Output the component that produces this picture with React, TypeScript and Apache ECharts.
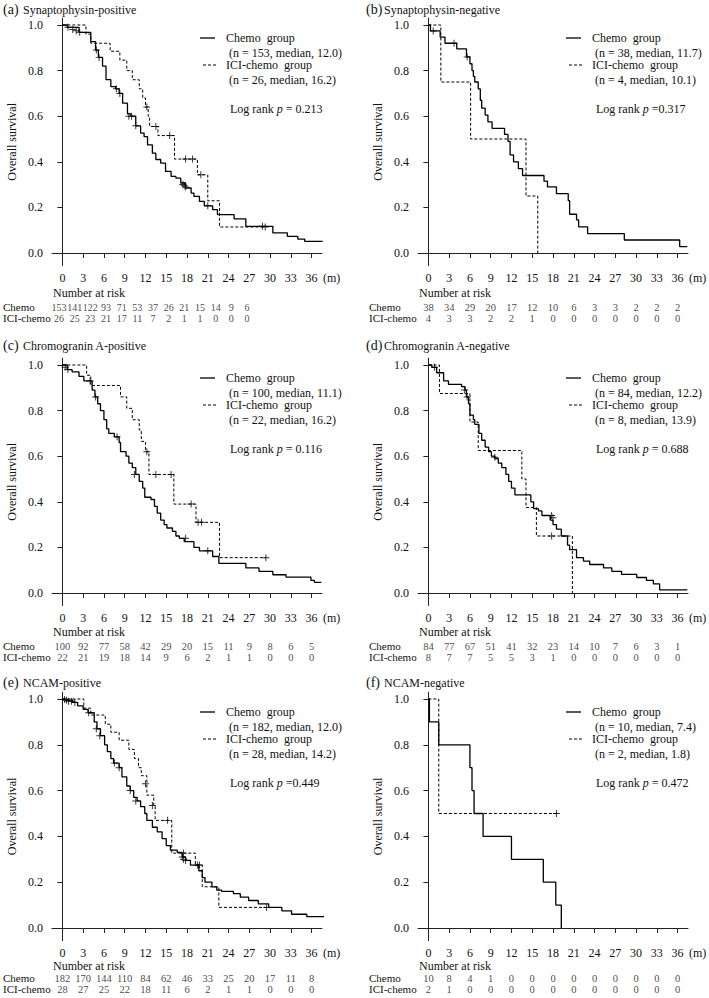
import React, { useEffect, useRef } from "react";
import * as echarts from "echarts";

const FONT = "'Liberation Serif', 'Times New Roman', serif";
const INK = "#111";

// ---- axes ----
const xTicks = [0, 3, 6, 9, 12, 15, 18, 21, 24, 27, 30, 33, 36];
const yTicks = [0, 0.2, 0.4, 0.6, 0.8, 1.0];
const riskRows = ["Chemo", "ICI-chemo"];
const titles = [
  "Synaptophysin-positive",
  "Synaptophysin-negative",
  "Chromogranin A-positive",
  "Chromogranin A-negative",
  "NCAM-positive",
  "NCAM-negative",
];
const tags = ["(a)", "(b)", "(c)", "(d)", "(e)", "(f)"];
const chemoN = ["153", "38", "100", "84", "182", "10"];
const chemoMedian = ["12.0", "11.7", "11.1", "12.2", "12.0", "7.4"];
const iciN = ["26", "4", "22", "8", "28", "2"];
const iciMedian = ["16.2", "10.1", "16.2", "13.9", "14.2", "1.8"];
const pText = [" = 0.213", " =0.317", " = 0.116", " = 0.688", " =0.449", " = 0.472"];

// ---- (a) Synaptophysin-positive ----
const aChemo = [[0,1],[0.7,0.99],[2.4,0.968],[4.1,0.927],[4.8,0.89],[5.2,0.858],[5.8,0.82],[6.3,0.76],[7.0,0.73],[7.7,0.72],[8.2,0.70],[8.7,0.657],[9.4,0.61],[9.9,0.60],[10.6,0.558],[11.3,0.526],[11.8,0.51],[12.3,0.474],[13.0,0.438],[13.5,0.41],[14.2,0.394],[14.9,0.358],[15.7,0.336],[16.4,0.328],[17.1,0.307],[17.8,0.285],[18.6,0.263],[19.0,0.248],[19.8,0.226],[20.5,0.207],[21.7,0.19],[22.4,0.168],[24.8,0.15],[26.5,0.117],[30.4,0.088],[32.5,0.073],[34.0,0.061],[35.0,0.051],[37.6,0.051]];
const aIci = [[0,1],[3.4,0.96],[4.1,0.92],[6.9,0.885],[8.3,0.846],[9.3,0.80],[10.1,0.76],[11.1,0.72],[11.6,0.68],[12.0,0.64],[12.4,0.60],[12.6,0.555],[13.8,0.515],[16.2,0.412],[19.5,0.343],[21.0,0.229],[22.7,0.114],[29.3,0.114]];
const aChemoCens = [[0.8,0.99],[1.5,0.98],[2.0,0.975],[2.5,0.968],[4.9,0.89],[5.3,0.858],[7.8,0.72],[8.3,0.70],[9.6,0.60],[10.0,0.60],[10.6,0.558],[17.4,0.30],[17.6,0.295],[17.8,0.29],[21.0,0.207],[28.9,0.117]];
const aIciCens = [[12.2,0.64],[13.5,0.555],[15.5,0.515],[17.8,0.412],[18.8,0.412],[20.0,0.343],[29.3,0.114]];
const aRiskChemo = [153,141,122,93,71,53,37,26,21,15,14,9,6];
const aRiskIci = [26,25,23,21,17,11,7,2,1,1,0,0,0];

// ---- (b) Synaptophysin-negative ----
const bChemo = [[0,1],[0.3,0.974],[1.7,0.947],[2.4,0.92],[4.1,0.895],[5.5,0.86],[6.0,0.83],[6.3,0.80],[6.5,0.775],[6.7,0.75],[7.2,0.72],[7.5,0.67],[7.7,0.635],[8.2,0.605],[8.6,0.575],[9.2,0.547],[11.0,0.52],[11.5,0.49],[11.8,0.43],[12.3,0.40],[13.0,0.37],[13.6,0.34],[16.7,0.315],[17.2,0.29],[18.5,0.26],[20.2,0.23],[20.4,0.17],[21.4,0.145],[21.7,0.115],[23.0,0.085],[28.3,0.057],[36.3,0.028],[37.4,0.028]];
const bIci = [[0,1],[1.8,0.75],[6.1,0.5],[14.1,0.25],[15.8,0.0]];
const bChemoCens = [[0.7,0.974],[3.7,0.92],[5.6,0.86]];
const bIciCens: number[][] = [];
const bRiskChemo = [38,34,29,20,17,12,10,6,3,3,2,2,2];
const bRiskIci = [4,3,3,2,2,1,0,0,0,0,0,0,0];

// ---- (c) Chromogranin A-positive ----
const cChemo = [[0,1],[0.7,0.98],[1.4,0.97],[2.4,0.95],[3.1,0.93],[4.3,0.89],[4.7,0.86],[5.1,0.83],[5.5,0.80],[6.0,0.76],[6.4,0.72],[6.7,0.70],[7.5,0.685],[8.2,0.66],[8.4,0.62],[9.2,0.60],[9.6,0.57],[10.1,0.55],[10.6,0.52],[11.1,0.49],[11.6,0.46],[11.9,0.42],[12.8,0.41],[13.3,0.38],[13.7,0.35],[14.2,0.32],[14.7,0.30],[15.1,0.285],[15.9,0.27],[16.4,0.25],[16.9,0.24],[17.6,0.225],[19.0,0.20],[19.8,0.185],[21.7,0.16],[22.6,0.13],[26.5,0.11],[28.4,0.095],[30.4,0.08],[32.3,0.07],[35.9,0.055],[36.4,0.047],[37.4,0.047]];
const cIci = [[0,1],[3.5,0.955],[4.1,0.91],[8.4,0.86],[9.3,0.81],[10.1,0.76],[11.1,0.715],[11.4,0.665],[12.0,0.62],[12.5,0.52],[16.1,0.39],[19.3,0.31],[22.7,0.155],[29.4,0.155]];
const cChemoCens = [[0.4,0.99],[0.8,0.98],[4.0,0.93],[4.8,0.86],[7.9,0.685],[10.4,0.52],[17.8,0.24],[21.0,0.185]];
const cIciCens = [[12.2,0.62],[13.5,0.52],[15.7,0.52],[18.6,0.39],[19.6,0.31],[20.1,0.31],[29.4,0.155]];
const cRiskChemo = [100,92,77,58,42,29,20,15,11,9,8,6,5];
const cRiskIci = [22,21,19,18,14,9,6,2,1,1,0,0,0];

// ---- (d) Chromogranin A-negative ----
const dChemo = [[0,1],[0.5,0.99],[1.2,0.966],[2.2,0.93],[2.9,0.915],[4.8,0.905],[5.3,0.89],[5.5,0.86],[5.8,0.83],[6.0,0.78],[6.5,0.76],[6.7,0.74],[7.3,0.70],[7.7,0.67],[8.2,0.64],[8.7,0.62],[9.1,0.60],[9.6,0.59],[10.1,0.57],[10.6,0.55],[11.2,0.52],[11.6,0.49],[12.0,0.46],[12.5,0.43],[14.8,0.40],[15.2,0.37],[15.9,0.36],[16.4,0.34],[17.6,0.32],[18.0,0.30],[18.5,0.28],[19.2,0.25],[20.1,0.21],[20.4,0.19],[21.4,0.155],[22.4,0.14],[23.3,0.125],[25.3,0.11],[26.5,0.095],[27.9,0.082],[30.1,0.068],[31.5,0.055],[32.5,0.04],[33.4,0.014],[37.4,0.014]];
const dIci = [[0,1],[1.6,0.875],[6.0,0.75],[7.2,0.625],[13.5,0.5],[14.1,0.375],[15.6,0.25],[20.8,0.0]];
const dChemoCens = [[0.9,0.99],[5.2,0.89],[5.6,0.86],[9.6,0.595],[17.8,0.34],[18.0,0.33]];
const dIciCens = [[17.8,0.25]];
const dRiskChemo = [84,77,67,51,41,32,23,14,10,7,6,3,1];
const dRiskIci = [8,7,7,5,5,3,1,0,0,0,0,0,0];

// ---- (e) NCAM-positive ----
const eChemo = [[0,1],[0.5,0.995],[1.5,0.985],[2.2,0.97],[3.0,0.955],[3.7,0.94],[4.6,0.90],[5.0,0.87],[5.5,0.84],[6.1,0.80],[6.5,0.77],[7.0,0.74],[7.4,0.72],[8.2,0.70],[8.6,0.66],[9.3,0.62],[9.8,0.60],[10.3,0.57],[10.8,0.555],[11.3,0.53],[11.9,0.50],[12.2,0.47],[13.0,0.44],[13.7,0.42],[14.4,0.39],[15.0,0.36],[15.6,0.34],[16.6,0.33],[17.3,0.31],[17.8,0.295],[18.5,0.275],[19.7,0.25],[20.2,0.22],[20.6,0.20],[21.6,0.18],[22.3,0.165],[23.0,0.16],[24.7,0.15],[25.7,0.135],[26.9,0.12],[28.3,0.105],[29.8,0.09],[31.7,0.075],[33.1,0.06],[35.3,0.05],[38.5,0.04],[40.3,0.04]];
const eIci = [[0,1],[3.1,0.96],[4.1,0.93],[6.2,0.89],[7.0,0.855],[8.2,0.82],[9.6,0.78],[10.4,0.74],[11.0,0.70],[11.4,0.665],[12.2,0.58],[13.2,0.535],[13.4,0.47],[15.8,0.327],[19.2,0.275],[20.2,0.18],[22.6,0.09],[29.5,0.09]];
const eChemoCens = [[0.3,0.998],[0.6,0.995],[0.9,0.99],[1.3,0.99],[1.8,0.985],[3.8,0.94],[4.9,0.87],[5.4,0.84],[7.5,0.72],[8.2,0.70],[9.8,0.60],[10.6,0.555],[17.3,0.31],[17.5,0.30],[17.8,0.295],[19.5,0.275]];
const eIciCens = [[12.0,0.63],[13.0,0.535],[15.2,0.47],[17.5,0.327],[19.8,0.275],[29.5,0.09]];
const eRiskChemo = [182,170,144,110,84,62,46,33,25,20,17,11,8];
const eRiskIci = [28,27,25,22,18,11,6,2,1,1,0,0,0];

// ---- (f) NCAM-negative ----
const fChemo = [[0,1],[0.15,0.9],[1.5,0.8],[6.0,0.7],[6.3,0.6],[6.6,0.5],[7.9,0.4],[12.0,0.3],[16.6,0.2],[18.4,0.1],[19.2,0.0]];
const fIci = [[0,1],[1.5,0.5],[18.5,0.5]];
const fChemoCens: number[][] = [];
const fIciCens = [[18.5,0.5]];
const fRiskChemo = [10,8,4,1,0,0,0,0,0,0,0,0,0];
const fRiskIci = [2,1,0,0,0,0,0,0,0,0,0,0,0];

const chemoCurves = [aChemo, bChemo, cChemo, dChemo, eChemo, fChemo];
const iciCurves = [aIci, bIci, cIci, dIci, eIci, fIci];
const chemoCensors = [aChemoCens, bChemoCens, cChemoCens, dChemoCens, eChemoCens, fChemoCens];
const iciCensors = [aIciCens, bIciCens, cIciCens, dIciCens, eIciCens, fIciCens];
const riskChemo = [aRiskChemo, bRiskChemo, cRiskChemo, dRiskChemo, eRiskChemo, fRiskChemo];
const riskIci = [aRiskIci, bRiskIci, cRiskIci, dRiskIci, eRiskIci, fRiskIci];

// ---- layout (pixels) ----
const X_MIN = -1.5;
const X_MAX = 37.5;
const Y_MIN = -0.055;
const Y_MAX = 1.03;
const GRID_W = 270;
const layouts = [
  { left: 52, y1: 25, y0: 253, riskLeft: 51.2, riskW: 203.6, riskFont: 10, r1: 307, r2: 318, narY: 293, titleY: 9, tagX: 3, titleX: 23, rowX: 3 },
  { left: 418, y1: 25, y0: 253, riskLeft: 418, riskW: 270, riskFont: 10.5, r1: 307, r2: 318, narY: 293, titleY: 9, tagX: 366, titleX: 384, rowX: 369 },
  { left: 52, y1: 365, y0: 593, riskLeft: 52, riskW: 270, riskFont: 10.5, r1: 646, r2: 657, narY: 632, titleY: 345, tagX: 3, titleX: 23, rowX: 3 },
  { left: 418, y1: 365, y0: 593, riskLeft: 418, riskW: 270, riskFont: 10.5, r1: 646, r2: 657, narY: 632, titleY: 345, tagX: 366, titleX: 384, rowX: 369 },
  { left: 52, y1: 699, y0: 928, riskLeft: 52, riskW: 270, riskFont: 10.5, r1: 978, r2: 989, narY: 966, titleY: 682, tagX: 3, titleX: 23, rowX: 3 },
  { left: 418, y1: 699, y0: 928, riskLeft: 418, riskW: 270, riskFont: 10.5, r1: 978, r2: 989, narY: 966, titleY: 682, tagX: 366, titleX: 384, rowX: 369 },
];

const CROSS = "path://M4.3,0H5.7V4.3H10V5.7H5.7V10H4.3V5.7H0V4.3H4.3Z";

function txt(text: string, x: number, y: number, size = 12, align = "left", extra: any = {}) {
  return {
    type: "text",
    x,
    y,
    silent: true,
    style: { text, fill: INK, fontSize: size, fontFamily: FONT, align, verticalAlign: "middle", ...extra },
  };
}

function buildOption() {
  const grid: any[] = [];
  const xAxis: any[] = [];
  const yAxis: any[] = [];
  const series: any[] = [];
  const graphic: any[] = [];
  const axisColor = "#222";

  layouts.forEach((L, i) => {
    const span = L.y0 - L.y1;
    const top = L.y1 - (Y_MAX - 1) * span;
    const height = (Y_MAX - Y_MIN) * span;
    const axisY = top + height;
    const px = (t: number) => L.left + ((t - X_MIN) / (X_MAX - X_MIN)) * GRID_W;

    // main plot
    const gi = grid.length;
    grid.push({ left: L.left, top, width: GRID_W, height });
    xAxis.push({
      type: "value",
      gridIndex: gi,
      min: X_MIN,
      max: X_MAX,
      axisLine: { show: true, lineStyle: { color: axisColor, width: 1 } },
      axisTick: { show: true, customValues: xTicks, length: 5, lineStyle: { color: axisColor } },
      axisLabel: { customValues: xTicks, margin: 6, fontSize: 12, fontFamily: FONT, color: INK },
      splitLine: { show: false },
    });
    yAxis.push({
      type: "value",
      gridIndex: gi,
      min: Y_MIN,
      max: Y_MAX,
      name: "Overall survival",
      nameLocation: "middle",
      nameGap: 34,
      nameTextStyle: { fontSize: 12, fontFamily: FONT, color: INK },
      axisLine: { show: true, lineStyle: { color: axisColor, width: 1 } },
      axisTick: { show: true, customValues: yTicks, length: 5, lineStyle: { color: axisColor } },
      axisLabel: {
        customValues: yTicks,
        margin: 9,
        fontSize: 12,
        fontFamily: FONT,
        color: INK,
        formatter: (v: number) => v.toFixed(1),
      },
      splitLine: { show: false },
    });
    const common = { xAxisIndex: gi, yAxisIndex: gi, silent: true, clip: false, animation: false };
    series.push({
      ...common,
      type: "line",
      step: "end",
      symbol: "none",
      data: chemoCurves[i],
      lineStyle: { color: "#000", width: 1.3 },
      z: 3,
    });
    series.push({
      ...common,
      type: "line",
      step: "end",
      symbol: "none",
      data: iciCurves[i],
      lineStyle: { color: "#000", width: 1, type: [3, 2] },
      z: 2,
    });
    series.push({
      ...common,
      type: "scatter",
      symbol: CROSS,
      symbolSize: 7,
      data: chemoCensors[i],
      itemStyle: { color: "#000" },
      z: 4,
    });
    series.push({
      ...common,
      type: "scatter",
      symbol: CROSS,
      symbolSize: 7,
      data: iciCensors[i],
      itemStyle: { color: "#000" },
      z: 4,
    });

    // risk table
    const ri = grid.length;
    const rh = L.r2 - L.r1;
    grid.push({ left: L.riskLeft, top: L.r1 - rh / 2, width: L.riskW, height: rh * 2 });
    xAxis.push({ type: "value", gridIndex: ri, min: X_MIN, max: X_MAX, show: false });
    yAxis.push({ type: "category", gridIndex: ri, data: riskRows, inverse: true, show: false });
    const riskLabel = {
      show: true,
      position: "inside",
      fontSize: L.riskFont,
      lineHeight: 10,
      fontFamily: FONT,
      color: INK,
      formatter: (p: any) => String(p.value[2]),
    };
    series.push({
      type: "scatter",
      xAxisIndex: ri,
      yAxisIndex: ri,
      silent: true,
      symbolSize: 1,
      itemStyle: { color: "rgba(0,0,0,0)" },
      label: riskLabel,
      data: xTicks.map((t, j) => [t, 0, riskChemo[i][j]]),
    });
    series.push({
      type: "scatter",
      xAxisIndex: ri,
      yAxisIndex: ri,
      silent: true,
      symbolSize: 1,
      itemStyle: { color: "rgba(0,0,0,0)" },
      label: riskLabel,
      data: xTicks.map((t, j) => [t, 1, riskIci[i][j]]),
    });

    // titles, legends, annotations
    graphic.push(txt(tags[i], L.tagX, L.titleY, 14));
    graphic.push(txt(titles[i], L.titleX, L.titleY + 0.5, 12));
    graphic.push(txt("(m)", px(36) + 20, axisY + 12.5, 12, "center"));
    graphic.push(txt("Number at risk", L.left + 1, L.narY, 12));
    graphic.push(txt(riskRows[0], L.rowX, L.r1, 11, "left", { lineHeight: 10 }));
    graphic.push(txt(riskRows[1], L.rowX, L.r2, 11, "left", { lineHeight: 10 }));

    const lx = L.left;
    graphic.push({
      type: "line",
      silent: true,
      shape: { x1: lx + 148, y1: L.y1 + 13, x2: lx + 163, y2: L.y1 + 13 },
      style: { stroke: "#000", lineWidth: 1.3 },
    });
    graphic.push({
      type: "line",
      silent: true,
      shape: { x1: lx + 151, y1: L.y1 + 40, x2: lx + 164, y2: L.y1 + 40 },
      style: { stroke: "#000", lineWidth: 1, lineDash: [3, 2] },
    });
    graphic.push(txt("Chemo  group", lx + 174, L.y1 + 13));
    graphic.push(txt(`(n = ${chemoN[i]}, median, ${chemoMedian[i]})`, lx + 177, L.y1 + 27.5));
    graphic.push(txt("ICI-chemo  group", lx + 174, L.y1 + 40));
    graphic.push(txt(`(n = ${iciN[i]}, median, ${iciMedian[i]})`, lx + 177, L.y1 + 54.5));
    graphic.push({
      type: "text",
      x: lx + 178,
      y: L.y1 + 84,
      silent: true,
      style: {
        text: `{n|Log rank }{i|p}{n|${pText[i]}}`,
        verticalAlign: "middle",
        align: "left",
        fill: INK,
        fontSize: 12,
        fontFamily: FONT,
        rich: {
          n: { fontSize: 12, fontFamily: FONT, fill: INK },
          i: { fontSize: 12, fontFamily: FONT, fill: INK, fontStyle: "italic" },
        },
      },
    });
  });

  return {
    animation: false,
    backgroundColor: "#fff",
    grid,
    xAxis,
    yAxis,
    series,
    graphic: { elements: graphic },
  };
}

export default function App() {
  const ref = useRef<HTMLDivElement>(null);
  useEffect(() => {
    if (!ref.current) return;
    const chart = echarts.init(ref.current, null, { renderer: "svg" });
    chart.setOption(buildOption() as any);
    return () => chart.dispose();
  }, []);
  return (
    <div
      ref={ref}
      style={{ position: "absolute", left: 0, top: 0, width: 709, height: 998, background: "#fff" }}
    />
  );
}
